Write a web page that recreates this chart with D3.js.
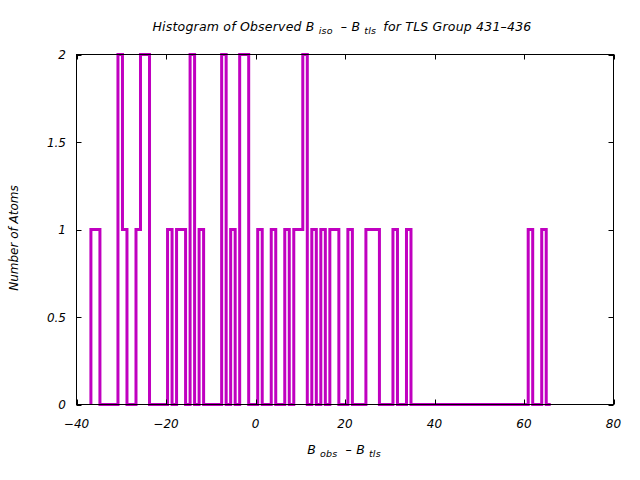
<!DOCTYPE html>
<html>
<head>
<meta charset="utf-8">
<script src="https://cdn.jsdelivr.net/npm/d3@7"></script>
<style>
  html, body { margin: 0; padding: 0; background: #fff; }
  svg { display: block; }
  text { font-family: "DejaVu Sans", sans-serif; font-style: italic; fill: #000; }
</style>
</head>
<body>
<svg id="chart" width="640" height="480"></svg>
<script>
// Histogram data (bins of equal width)
const binStart = -36.78;
const binWidth = 1.0074;
const counts = [
  1,1,0,0,0,0,2,1,0,0,
  1,2,2,0,0,0,0,1,0,1,
  1,0,2,0,1,0,0,0,0,2,
  0,1,0,2,2,0,0,1,0,0,
  1,0,0,1,0,1,1,2,0,1,
  0,1,0,1,1,0,0,1,0,0,
  0,1,1,1,0,0,0,1,0,0,
  1,0,0,0,0,0,0,0,0,0,
  0,0,0,0,0,0,0,0,0,0,
  0,0,0,0,0,0,0,1,0,0,
  1,0
];
const xTicks = [-40, -20, 0, 20, 40, 60, 80];
const yTicks = [0, 0.5, 1, 1.5, 2];
const yTickLabels = ["0", "0.5", "1", "1.5", "2"];

const svg = d3.select("#chart");
const L = 76.5, R = 613.5, T = 54.5, B = 404.5;

const x = d3.scaleLinear().domain([-40, 80]).range([L, R]);
const y = d3.scaleLinear().domain([0, 2]).range([B, T]);

// step path
const pts = [[binStart, 0]];
counts.forEach((c, i) => {
  const e0 = binStart + i * binWidth, e1 = binStart + (i + 1) * binWidth;
  pts.push([e0, c], [e1, c]);
});
pts.push([binStart + counts.length * binWidth, 0]);

svg.append("path")
  .datum(pts)
  .attr("fill", "none")
  .attr("stroke", "#c000c0")
  .attr("stroke-width", 3)
  .attr("stroke-linejoin", "miter")
  .attr("d", d3.line().x(d => x(d[0])).y(d => y(d[1])));

// axes with inward ticks (mirrored)
const tickLen = 5;
const g = svg.append("g");
xTicks.forEach(t => {
  const px = Math.round(x(t)) + 0.5;
  g.append("line").attr("x1", px).attr("x2", px).attr("y1", B).attr("y2", B - tickLen).attr("stroke", "#000");
  g.append("line").attr("x1", px).attr("x2", px).attr("y1", T).attr("y2", T + tickLen).attr("stroke", "#000");
  g.append("text").attr("x", x(t)).attr("y", 428).attr("text-anchor", "middle")
    .attr("font-size", 12).text(t < 0 ? "\u2212" + Math.abs(t) : String(t));
});
yTicks.forEach((t, i) => {
  const py = Math.round(y(t)) + 0.5;
  g.append("line").attr("x1", L).attr("x2", L + tickLen).attr("y1", py).attr("y2", py).attr("stroke", "#000");
  g.append("line").attr("x1", R).attr("x2", R - tickLen).attr("y1", py).attr("y2", py).attr("stroke", "#000");
  g.append("text").attr("x", 66).attr("y", y(t) + 4.5).attr("text-anchor", "end")
    .attr("font-size", 12).text(yTickLabels[i]);
});
svg.append("rect").attr("x", L).attr("y", T).attr("width", R - L).attr("height", B - T)
  .attr("fill", "none").attr("stroke", "#000").attr("stroke-width", 1);

// title
const title = svg.append("text").attr("x", 342).attr("y", 31).attr("text-anchor", "middle")
  .attr("font-size", 12.5).attr("letter-spacing", 0.2);
title.append("tspan").text("Histogram of Observed B");
title.append("tspan").attr("font-size", 9.5).attr("dy", 3).attr("dx", 4).text("iso");
title.append("tspan").attr("dy", -3).attr("dx", 4).text(" \u2013 B");
title.append("tspan").attr("font-size", 9.5).attr("dy", 3).attr("dx", 4).text("tls");
title.append("tspan").attr("dy", -3).attr("dx", 3).text(" for TLS Group 431\u2013436");

// x label
const xl = svg.append("text").attr("x", 344).attr("y", 454).attr("text-anchor", "middle")
  .attr("font-size", 12.5).attr("letter-spacing", 0.2);
xl.append("tspan").text("B");
xl.append("tspan").attr("font-size", 9.5).attr("dy", 3).attr("dx", 4).text("obs");
xl.append("tspan").attr("dy", -3).attr("dx", 4).text(" \u2013 B");
xl.append("tspan").attr("font-size", 9.5).attr("dy", 3).attr("dx", 4).text("tls");

// y label
svg.append("text").attr("transform", "translate(18,238) rotate(-90)").attr("text-anchor", "middle")
  .attr("font-size", 12).text("Number of Atoms");
</script>
</body>
</html>
